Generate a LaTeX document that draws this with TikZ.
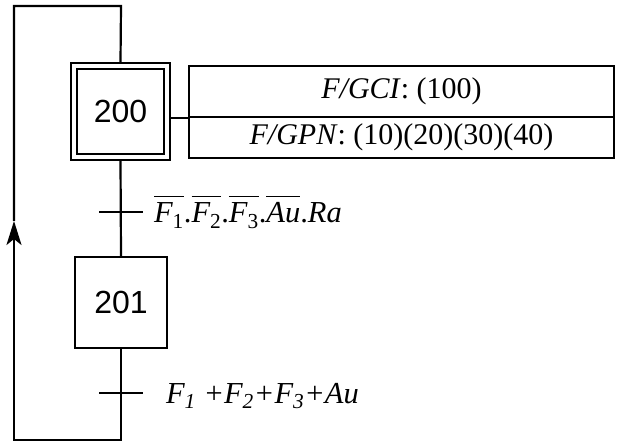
\documentclass[tikz,border=0pt]{standalone}
\usepackage{fontspec}
\setmainfont{Liberation Serif}
\setsansfont{Liberation Sans}
\usetikzlibrary{arrows.meta}
\newcommand\olF[1]{$\overline{\mbox{\rule{0pt}{25pt}\itshape F\textsubscript{\upshape #1}}}$}
\begin{document}
\begin{tikzpicture}[x=1pt,y=-1pt,line width=2.2pt,
  stepbox/.style={draw,inner sep=0pt,font=\sffamily\fontsize{32}{32}\selectfont},
  frame/.style={draw,inner sep=0pt,line width=1.8pt},
  cell/.style={draw,inner sep=0pt,minimum width=425pt,font=\fontsize{30}{30}\selectfont},
  cond/.style={inner sep=0pt,font=\fontsize{30.5}{30}\selectfont}]
\useasboundingbox (0,0) rectangle (620,443);
% step 200 (initial, double frame)
\node[frame,minimum width=99pt,minimum height=97pt] (s200o) at (120.5,111.5) {};
\node[stepbox,line width=1.8pt,minimum width=87pt,minimum height=85pt] (s200) at (120.5,111.5) {200};
% actions
\node[cell,minimum height=51pt] (act1) at (401.5,91.5) {\textit{F/GCI}: (100)};
\node[cell,minimum height=41pt] (act2) at (401.5,137.5) {\textit{F/GPN}: (10)(20)(30)(40)};
\draw (s200o.east |- act1.south) -- (act1.south west);
% step 201
\node[stepbox,minimum width=92pt,minimum height=91pt] (s201) at (121,302.5) {201};
% transition 1
\coordinate (t1l) at (99,212);
\coordinate (t1r) at (143,212);
\draw (s200o.south) -- (s201.north);
\draw (t1l) -- (t1r);
\node[cond,anchor=base west] (c1txt) at (153,223) {\olF{1}.\olF{2}.\olF{3}.$\overline{\mbox{\rule{0pt}{25pt}\itshape Au}}$.\textit{Ra}};
% transition 2
\coordinate (t2l) at (99,393);
\coordinate (t2r) at (143,393);
\coordinate (b) at (121,440);
\draw (s201.south) -- (b);
\draw (t2l) -- (t2r);
\node[cond,anchor=base west] (c2txt) at (165,403) {\textit{F\textsubscript{1} +F\textsubscript{2}+F\textsubscript{3}+Au}};
% loop back
\coordinate (bl) at (14,440);
\coordinate (tip) at (14,221);
\coordinate (tl) at (14,6);
\coordinate (tr) at (121,6);
\draw[line cap=rect] (b) -- (bl);
\draw[-{Stealth[length=24pt,width=15pt,inset=6pt]}] (bl) -- (tip);
\draw (tip) -- (tl) -- (tr) -- (s200o.north);
\end{tikzpicture}
\end{document}
